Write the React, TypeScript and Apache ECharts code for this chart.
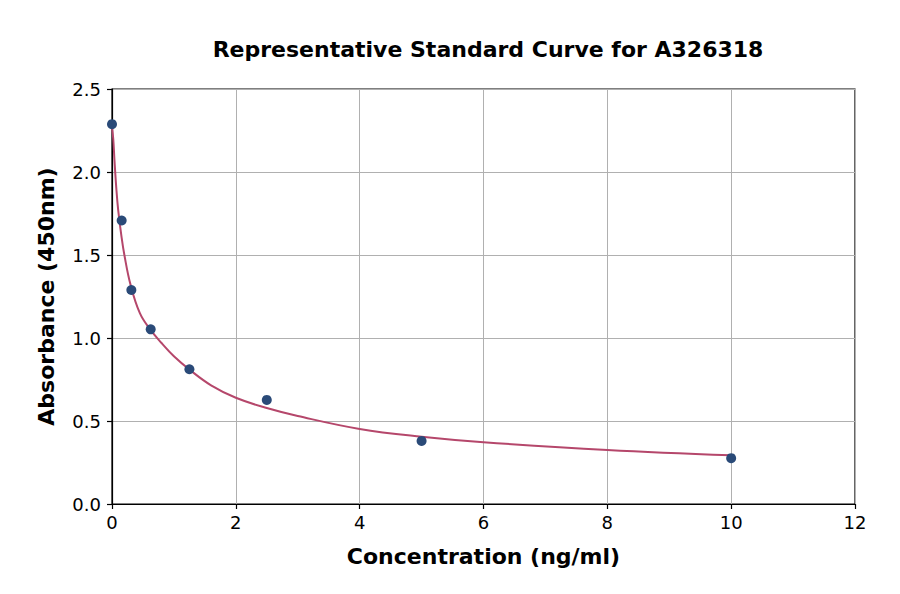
import React, { useEffect, useRef } from "react";
import * as echarts from "echarts";

// standard points (concentration, absorbance)
const concentrations = [0, 0.156, 0.3125, 0.625, 1.25, 2.5, 5, 10];
const absorbances = [2.288, 1.708, 1.289, 1.052, 0.812, 0.627, 0.38, 0.276];

// fitted curve
const curveX = [0, 0.02, 0.04, 0.07, 0.1, 0.15, 0.2, 0.3, 0.45, 0.62, 0.8, 1, 1.25, 1.6, 2, 2.5, 3, 4, 5, 6, 8, 10];
const curveY = [2.27, 2.2, 2.07, 1.9, 1.77, 1.62, 1.5, 1.32, 1.15, 1.05, 0.97, 0.89, 0.81, 0.715, 0.64, 0.578, 0.53, 0.452, 0.405, 0.372, 0.325, 0.293];

const xTicks = { min: 0, max: 12, interval: 2 };
const yTicks = { min: 0, max: 2.5, interval: 0.5 };

const FONT = "DejaVu Sans";

const App: React.FC = () => {
    const chartRef = useRef<HTMLDivElement>(null);

    useEffect(() => {
        if (!chartRef.current) return;
        const chart = echarts.init(chartRef.current, undefined, { renderer: "svg" });

        const axisCommon = {
            type: "value" as const,
            nameLocation: "middle" as const,
            nameTextStyle: { fontFamily: FONT, fontWeight: "bold" as const, fontSize: 22, color: "#000" },
            axisLine: { show: true, onZero: false, lineStyle: { color: "#000", width: 1.2 } },
            axisTick: { show: true, inside: false, length: 5, lineStyle: { color: "#000", width: 1.2 } },
            axisLabel: { fontFamily: FONT, fontSize: 18, color: "#000" },
            splitLine: { show: true, lineStyle: { color: "#b0b0b0", width: 1 } },
        };

        chart.setOption({
            animation: false,
            backgroundColor: "#fff",
            title: {
                text: "Representative Standard Curve for A326318",
                left: 483,
                top: 33,
                textAlign: "center",
                textStyle: { fontFamily: FONT, fontWeight: "bold", fontSize: 22, color: "#000" },
            },
            grid: {
                left: 112,
                right: 45,
                top: 89,
                bottom: 90,
                show: true,
                borderColor: "#000",
                borderWidth: 1.2,
                backgroundColor: "transparent",
            },
            xAxis: {
                ...axisCommon,
                ...xTicks,
                name: "Concentration (ng/ml)",
                nameGap: 41,
                axisLabel: { ...axisCommon.axisLabel, margin: 9 },
            },
            yAxis: {
                ...axisCommon,
                ...yTicks,
                name: "Absorbance (450nm)",
                nameGap: 55,
                axisLabel: {
                    ...axisCommon.axisLabel,
                    margin: 11,
                    formatter: (v: number) => v.toFixed(1),
                },
            },
            series: [
                {
                    type: "line",
                    data: curveX.map((x, i) => [x, curveY[i]]),
                    showSymbol: false,
                    smooth: 0.4,
                    lineStyle: { color: "#b5476b", width: 2 },
                    z: 2,
                },
                {
                    type: "scatter",
                    data: concentrations.map((x, i) => [x, absorbances[i]]),
                    symbolSize: 10,
                    itemStyle: { color: "#2a4a78", opacity: 1 },
                    z: 3,
                },
            ],
        });

        return () => {
            chart.dispose();
        };
    }, []);

    return <div ref={chartRef} style={{ width: 900, height: 594, margin: -8 }} />;
};

export default App;
